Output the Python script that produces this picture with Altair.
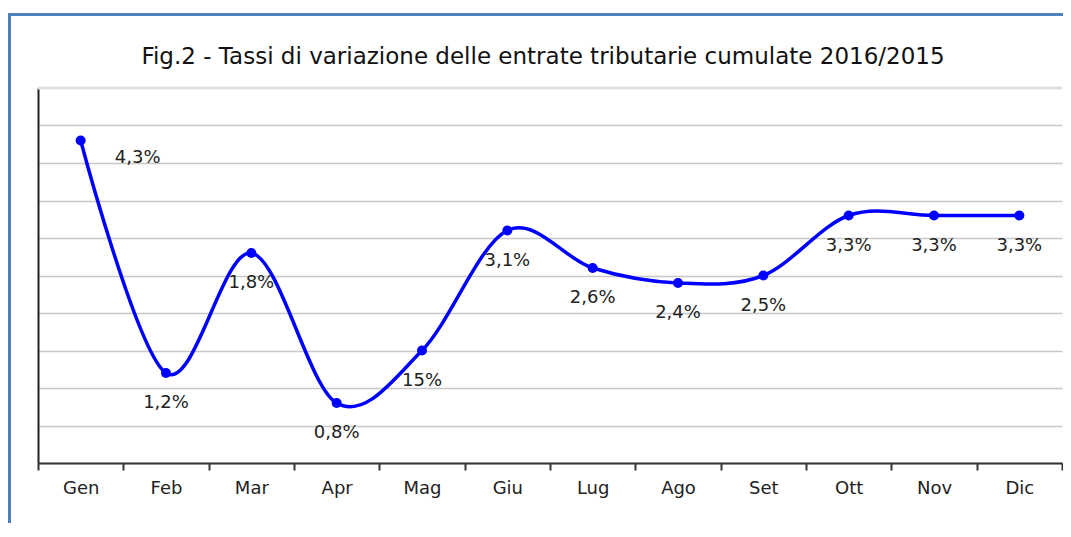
import altair as alt
import pandas as pd

months = ["Gen", "Feb", "Mar", "Apr", "Mag", "Giu", "Lug", "Ago", "Set", "Ott", "Nov", "Dic"]
values = [4.3, 1.2, 2.8, 0.8, 1.5, 3.1, 2.6, 2.4, 2.5, 3.3, 3.3, 3.3]
labels = ["4,3%", "1,2%", "1,8%", "0,8%", "15%", "3,1%", "2,6%", "2,4%", "2,5%", "3,3%", "3,3%", "3,3%"]
grid_values = [0, 0.5, 1, 1.5, 2, 2.5, 3, 3.5, 4, 4.5]
title_text = "Fig.2 - Tassi di variazione delle entrate tributarie cumulate 2016/2015"

df = pd.DataFrame({"mese": months, "valore": values, "etichetta": labels})

W, H = 1024, 375
FONT = "DejaVu Sans"

x_scale = alt.Scale(domain=months, paddingInner=0, paddingOuter=0)
x_axis = alt.Axis(title=None, labelAngle=0, labelFontSize=18, labelFont=FONT,
                  labelColor="#222", domainColor="#333", domainWidth=2,
                  tickColor="#333", tickWidth=2, tickSize=7, tickBand="extent",
                  labelPadding=9, grid=False)
y_scale = alt.Scale(domain=[0, 5], nice=False, zero=True)
y_axis = alt.Axis(title=None, labels=False, ticks=False, values=grid_values,
                  domainColor="#222", domainWidth=2,
                  grid=True, gridColor="#c8c8c8", gridWidth=1.5)

def X():
    return alt.X("mese:N", sort=months, scale=x_scale, axis=x_axis)

def Y(field="valore:Q"):
    return alt.Y(field, scale=y_scale, axis=y_axis)

base = alt.Chart(df)

line = base.mark_line(color="#0000ff", strokeWidth=3.5, interpolate="cardinal").encode(
    x=X(), y=Y())
points = base.mark_point(filled=True, color="#0000ff", size=100, opacity=1).encode(
    x=X(), y=Y())
text_rest = base.transform_filter(alt.datum.mese != "Gen").mark_text(
    font=FONT, fontSize=18, color="#222", dy=30, baseline="middle").encode(
    x=X(), y=Y(), text="etichetta:N")
text_gen = base.transform_filter(alt.datum.mese == "Gen").mark_text(
    font=FONT, fontSize=18, color="#222", dx=57, dy=17, baseline="middle").encode(
    x=X(), y=Y(), text="etichetta:N")

top_line = alt.Chart(pd.DataFrame({"valore": [5]})).mark_rule(color="#e0e0e0", strokeWidth=3).encode(
    y=Y())

one = pd.DataFrame({"t": [title_text]})
title_mark = alt.Chart(one).mark_text(font=FONT, fontSize=23, color="#111",
                                      align="center", baseline="middle").encode(
    x=alt.value(W / 2 - 7), y=alt.value(-31), text="t:N")

frame_top = alt.Chart(one).mark_rule(color="#4f81bd", strokeWidth=3).encode(
    x=alt.value(-30), x2=alt.value(1040), y=alt.value(-73.5))
frame_left = alt.Chart(one).mark_rule(color="#4f81bd", strokeWidth=3).encode(
    x=alt.value(-28.5), y=alt.value(-75), y2=alt.value(460))

chart = alt.layer(
    frame_top, frame_left, title_mark, top_line, line, points, text_rest, text_gen
).properties(
    width=W, height=H,
    autosize=alt.AutoSizeParams(type="none"),
    padding={"left": 30, "top": 80, "right": 1, "bottom": 60},
).configure_view(stroke=None)

chart.save("out.html", embed_options={"renderer": "svg", "actions": False})
